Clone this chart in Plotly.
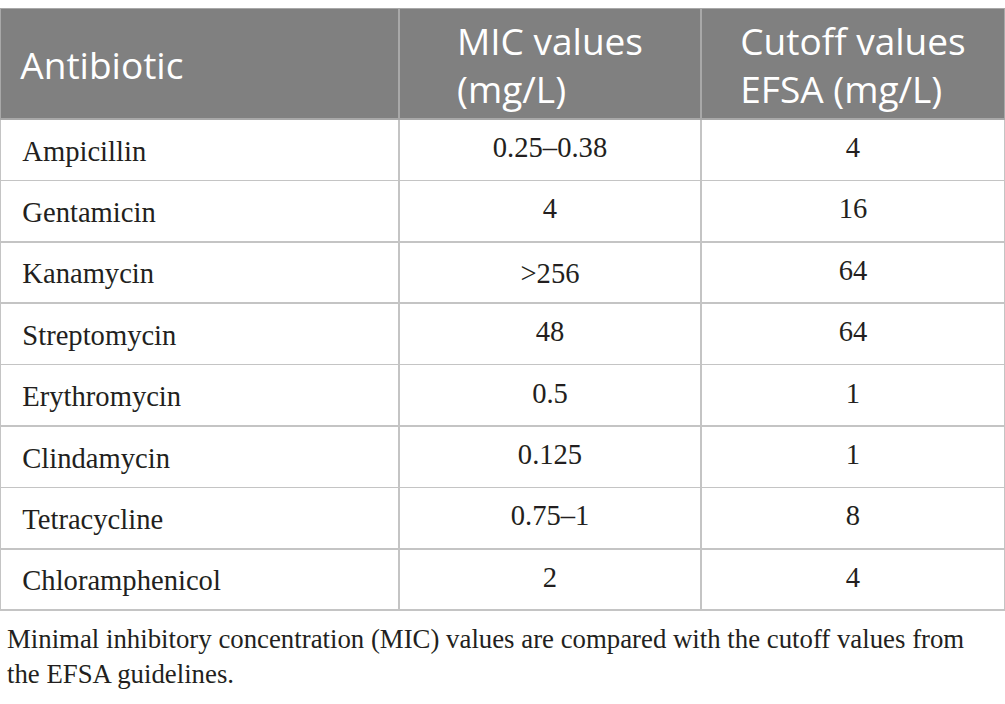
import plotly.graph_objects as go

# Table contents
antibiotics = ["Ampicillin", "Gentamicin", "Kanamycin", "Streptomycin",
               "Erythromycin", "Clindamycin", "Tetracycline", "Chloramphenicol"]
mic_values = ["0.25–0.38", "4", ">256", "48", "0.5", "0.125", "0.75–1", "2"]
efsa_cutoffs = ["4", "16", "64", "64", "1", "1", "8", "4"]
headers = ["Antibiotic", "MIC values<br>(mg/L)", "Cutoff values<br>EFSA (mg/L)"]

caption = ("Minimal inhibitory concentration (MIC) values are compared with the cutoff values from"
           "<br>the EFSA guidelines.")

W, H = 1005, 704
col_w = [399, 302, 304]
top = 8.5          # px, top edge of the table
head_h = 110.5     # px, header row
row_h = 61.4       # px, body rows
# plotly always puts cell text at the top of a cell, so the labels live in
# transparent overlay tables that are nudged down to sit mid-cell
head2_top = 7      # two-line header labels
label_top = 43     # "Antibiotic" label
body_shift = 8.5   # body rows


def py(y):
    # pixel from top -> paper fraction
    return 1 - y / H


txt_col = "#231f20"
clear = "rgba(0,0,0,0)"
blank = [""] * len(antibiotics)

# grid, header fill and borders only
grid = go.Table(
    columnwidth=col_w,
    header=dict(
        values=["", "", ""],
        fill_color="#808080",
        line=dict(color="#a8a8a8", width=1.5),
        height=head_h,
    ),
    cells=dict(
        values=[blank, blank, blank],
        fill_color="white",
        line=dict(color="#c4c4c4", width=1.5),
        height=row_h,
    ),
    domain=dict(x=[0, 1], y=[0, py(top)]),
)

# two-line header labels
head_text = go.Table(
    columnwidth=col_w,
    header=dict(
        values=["", headers[1], headers[2]],
        fill_color=clear,
        line=dict(width=0),
        align="center",
        font=dict(family="Open Sans", size=37, color="white"),
        height=head_h,
    ),
    cells=dict(values=[[], [], []], fill_color=clear, line=dict(width=0)),
    domain=dict(x=[0, 1], y=[0, py(head2_top)]),
)

# "Antibiotic" label + body rows
body_text = go.Table(
    columnwidth=col_w,
    header=dict(
        values=["\u2004" + headers[0], "", ""],
        fill_color=clear,
        line=dict(width=0),
        align="left",
        font=dict(family="Open Sans", size=37, color="white"),
        height=top + head_h + body_shift - label_top,
    ),
    cells=dict(
        values=[["&nbsp;&nbsp;" + a for a in antibiotics], mic_values, efsa_cutoffs],
        fill_color=clear,
        line=dict(width=0),
        align=["left", "center", "center"],
        font=dict(family="Liberation Serif", size=28.6, color=txt_col),
        height=row_h,
    ),
    domain=dict(x=[0, 1], y=[0, py(label_top)]),
)

fig = go.Figure([grid, head_text, body_text])

fig.add_annotation(
    text=caption, xref="paper", yref="paper", x=5 / W, y=py(622),
    xanchor="left", yanchor="top", align="left", showarrow=False,
    font=dict(family="Liberation Serif", size=26.8, color=txt_col),
)

fig.update_layout(
    width=W,
    height=H,
    margin=dict(l=0, r=0, t=0, b=0),
    paper_bgcolor="white",
)

fig.write_html("out.html", config={"displayModeBar": False},
               post_script="document.body.style.margin = '0';")
